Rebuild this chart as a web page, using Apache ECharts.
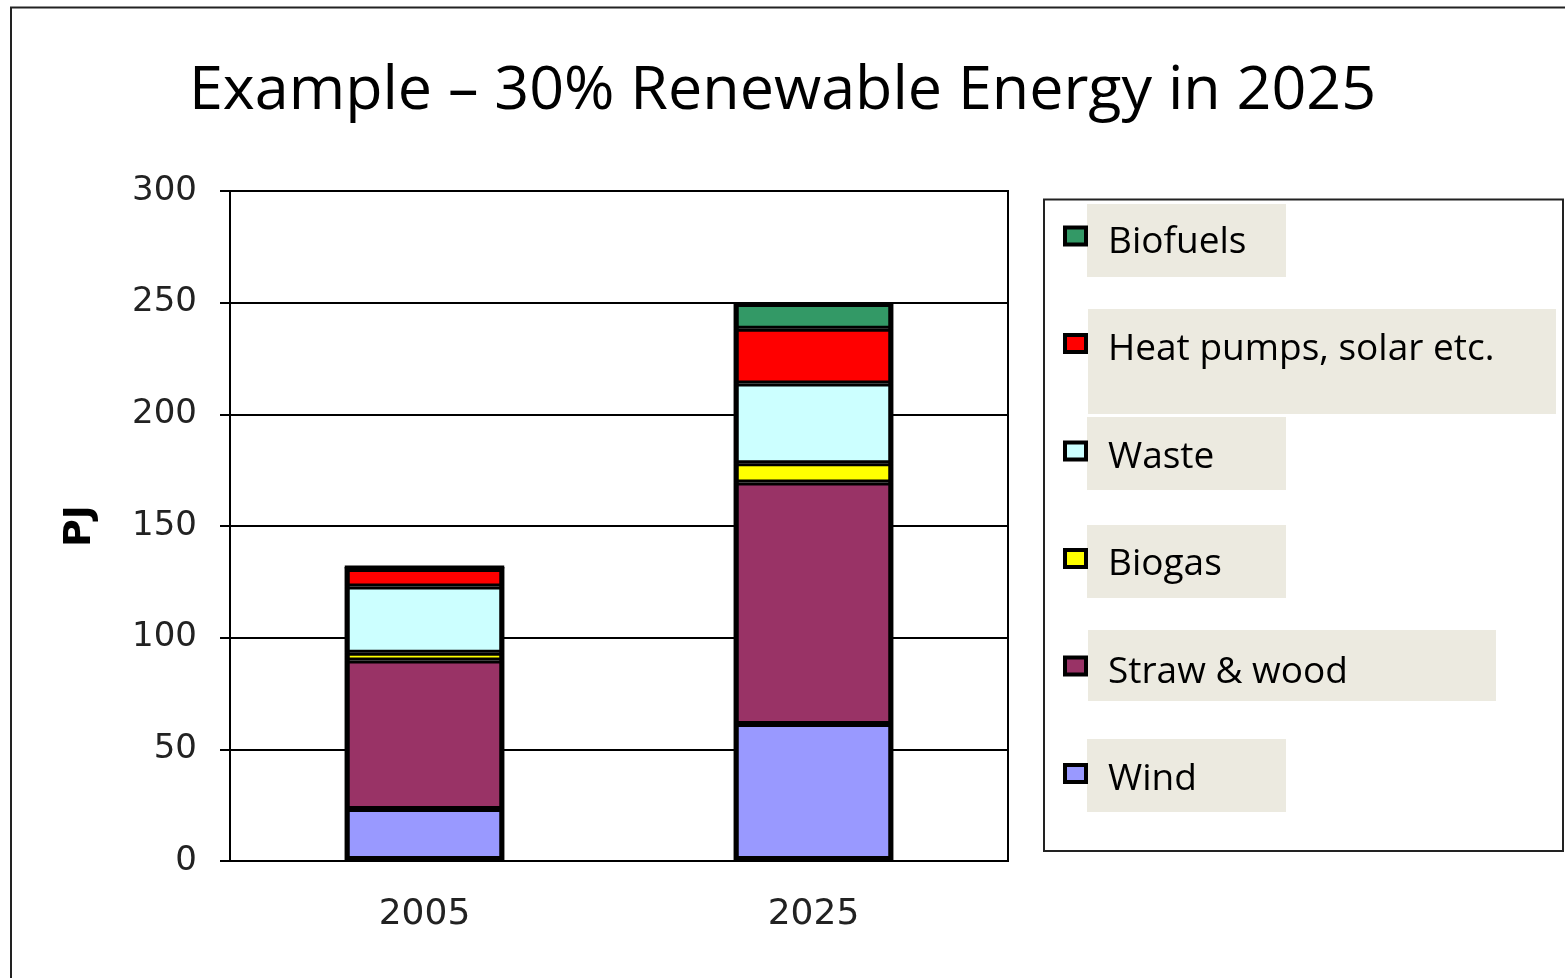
<!DOCTYPE html>
<html>
<head>
<meta charset="utf-8">
<script src="https://cdn.jsdelivr.net/npm/echarts@6/dist/echarts.min.js"></script>
<style>
html,body{margin:0;padding:0;background:#fff;}
#chart{width:1565px;height:978px;}
</style>
</head>
<body>
<div id="chart"></div>
<script>
const categories = ['2005', '2025'];
const wind = [23.3, 61.3];
const strawWood = [66.5, 108.2];
const biogas = [3.5, 8.6];
const waste = [29.6, 35.7];
const heatPumps = [8.7, 24.5];
const biofuels = [0, 12.0];
const seriesNames = ['Wind', 'Straw & wood', 'Biogas', 'Waste', 'Heat pumps, solar etc.', 'Biofuels'];
const seriesValues = [wind, strawWood, biogas, waste, heatPumps, biofuels];
const seriesColors = ['#9999FF', '#993366', '#FFFF00', '#CCFFFF', '#FF0000', '#339966'];
const legendOrder = ['Biofuels', 'Heat pumps, solar etc.', 'Waste', 'Biogas', 'Straw & wood', 'Wind'];
const yTicks = {min: 0, max: 300, interval: 50};

// stack totals (derived from the series above) used only to draw the heavy outer outline
const totals = categories.map((c, j) => seriesValues.reduce((s, arr) => s + arr[j], 0));

const chart = echarts.init(document.getElementById('chart'), null, {renderer: 'canvas'});

const beige = '#ECEAE0';
const barSeries = seriesNames.map((name, i) => ({
  name: name,
  type: 'bar',
  stack: 'total',
  barWidth: '41%',
  barGap: '-100%',
  data: seriesValues[i],
  itemStyle: {color: seriesColors[i], borderColor: '#000', borderWidth: 3},
  emphasis: {disabled: true}
}));
barSeries.push({
  name: 'outline',
  type: 'bar',
  barWidth: '41%',
  barGap: '-100%',
  data: totals,
  silent: true,
  z: 3,
  itemStyle: {color: 'rgba(0,0,0,0)', borderColor: '#000', borderWidth: 5},
  emphasis: {disabled: true}
});

const option = {
  animation: false,
  backgroundColor: '#fff',
  title: {
    text: 'Example \u2013 30% Renewable Energy in 2025',
    left: 'center',
    top: 61,
    padding: 0,
    textStyle: {fontFamily: 'Open Sans', fontSize: 61, fontWeight: 'normal', color: '#000'}
  },
  grid: {
    left: 230, top: 191, width: 778, height: 670,
    show: true, borderColor: '#000', borderWidth: 2, backgroundColor: 'transparent'
  },
  legend: {
    orient: 'vertical',
    left: 1063, top: 215, padding: 0,
    itemWidth: 21, itemHeight: 17, itemGap: 62,
    icon: 'rect',
    selectedMode: false,
    itemStyle: {borderColor: '#000', borderWidth: 4},
    formatter: name => '{s| }\n{t|' + name + '}',
    textStyle: {
      fontFamily: 'Open Sans', fontSize: 37, color: '#000', padding: [0, 0, 0, 17],
      rich: {
        s: {fontSize: 2, lineHeight: 12},
        t: {fontFamily: 'Open Sans', fontSize: 37, lineHeight: 40, color: '#000'}
      }
    },
    data: legendOrder,
    z: 10
  },
  xAxis: {
    type: 'category',
    data: categories,
    axisLine: {lineStyle: {color: '#000', width: 2}},
    axisTick: {length: 11, lineStyle: {color: '#000', width: 2}},
    axisLabel: {fontFamily: 'DejaVu Sans', fontSize: 36, color: '#222', margin: 36}
  },
  yAxis: {
    type: 'value',
    min: yTicks.min, max: yTicks.max, interval: yTicks.interval,
    name: 'PJ',
    nameLocation: 'middle',
    nameGap: 131,
    nameTextStyle: {fontFamily: 'DejaVu Sans', fontSize: 38, fontWeight: 'bold', color: '#000'},
    axisLine: {show: true, lineStyle: {color: '#000', width: 2}},
    axisTick: {show: true, length: 10, lineStyle: {color: '#000', width: 2}},
    splitLine: {lineStyle: {color: '#000', width: 2}},
    axisLabel: {fontFamily: 'DejaVu Sans', fontSize: 34, color: '#222', margin: 33}
  },
  graphic: [
    {type: 'rect', shape: {x: 11, y: 7.5, width: 1700, height: 1100}, style: {fill: 'none', stroke: '#222', lineWidth: 2}, z: 0},
    {type: 'rect', shape: {x: 1044, y: 199.5, width: 519, height: 651.5}, style: {fill: '#fff', stroke: '#222', lineWidth: 2}, z: 0},
    {type: 'rect', shape: {x: 1087, y: 204, width: 199, height: 73}, style: {fill: beige}, z: 1},
    {type: 'rect', shape: {x: 1088, y: 309, width: 468, height: 105}, style: {fill: beige}, z: 1},
    {type: 'rect', shape: {x: 1087, y: 417, width: 199, height: 73}, style: {fill: beige}, z: 1},
    {type: 'rect', shape: {x: 1087, y: 525, width: 199, height: 73}, style: {fill: beige}, z: 1},
    {type: 'rect', shape: {x: 1088, y: 630, width: 408, height: 71}, style: {fill: beige}, z: 1},
    {type: 'rect', shape: {x: 1087, y: 739, width: 199, height: 73}, style: {fill: beige}, z: 1}
  ],
  series: barSeries
};
chart.setOption(option);
</script>
</body>
</html>
